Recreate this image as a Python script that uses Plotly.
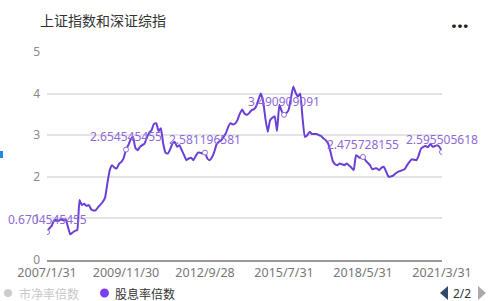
import plotly.graph_objects as go
import pandas as pd

title = "上证指数和深证综指"
series_name = "股息率倍数"
other_series = "市净率倍数"

tick_labels = ["2007/1/31", "2009/11/30", "2012/9/28", "2015/7/31", "2018/5/31", "2021/3/31"]

values = [
    0.6704545455, 0.76, 0.82, 0.95, 0.97, 0.94, 0.98, 0.95, 0.98, 0.80,
    0.62, 0.66, 0.70, 0.72, 1.44, 1.32, 1.35, 1.30, 1.32, 1.22,
    1.19, 1.20, 1.27, 1.33, 1.40, 1.50, 1.85, 2.16, 2.28, 2.22,
    2.20, 2.31, 2.36, 2.45, 2.654545455, 2.76, 2.90, 2.96, 2.70, 2.64,
    2.72, 2.76, 2.80, 2.95, 3.06, 3.12, 3.27, 3.29, 3.10, 3.17,
    2.80, 2.58, 2.56, 2.66, 2.80, 2.84, 2.72, 2.76, 2.64, 2.52,
    2.40, 2.44, 2.46, 2.40, 2.50, 2.58, 2.58, 2.56, 2.581196581, 2.44,
    2.40, 2.47, 2.60, 2.78, 2.84, 2.88, 2.96, 3.05, 3.20, 3.29,
    3.26, 3.28, 3.37, 3.52, 3.62, 3.52, 3.49, 3.53, 3.60, 3.62,
    3.69, 3.85, 4.00, 3.82, 3.40, 3.08, 3.36, 3.42, 3.45, 3.10,
    3.73, 3.58, 3.490909091, 3.53, 3.61, 3.90, 4.17, 4.02, 3.93, 4.00,
    3.40, 2.96, 3.00, 3.08, 3.03, 3.03, 3.03, 3.00, 2.98, 2.92,
    2.88, 2.80, 2.60, 2.38, 2.30, 2.28, 2.32, 2.30, 2.28, 2.32,
    2.27, 2.22, 2.16, 2.52, 2.48, 2.45, 2.475728155, 2.40, 2.34, 2.28,
    2.18, 2.20, 2.20, 2.16, 2.22, 2.24, 2.12, 2.00, 2.01, 2.03,
    2.08, 2.12, 2.14, 2.16, 2.19, 2.28, 2.36, 2.42, 2.41, 2.40,
    2.52, 2.68, 2.72, 2.74, 2.71, 2.79, 2.72, 2.74, 2.76, 2.71,
    2.595505618,
]

# monthly category labels; ticked months carry the chart's own labels
months = list(pd.date_range("2007-01-31", periods=len(values), freq="ME").strftime("%Y/%m/%d"))
tick_idx = [0, 34, 68, 102, 136, 170]
for i, lab in zip(tick_idx, tick_labels):
    months[i] = lab

line_color = "#6a3fd6"
label_color = "#8d6ad9"

fig = go.Figure()
fig.add_trace(go.Scatter(
    x=months, y=values, mode="lines",
    line=dict(color=line_color, width=2, shape="spline", smoothing=0.4),
    hoverinfo="skip", showlegend=False,
))
fig.add_trace(go.Scatter(
    x=[months[i] for i in tick_idx], y=[values[i] for i in tick_idx],
    mode="markers",
    marker=dict(size=5, color="white", line=dict(color=label_color, width=1)),
    showlegend=False, hoverinfo="skip",
))
for i in tick_idx:
    fig.add_annotation(
        x=months[i], y=values[i], text=str(values[i]), showarrow=False,
        yshift=13, font=dict(family="Noto Sans", size=12, color=label_color),
    )

fig.update_xaxes(
    type="category", range=[0, len(values) - 1],
    tickmode="array", tickvals=tick_labels, ticktext=tick_labels,
    showgrid=False, showline=True, linecolor="#9a9a9a", linewidth=2,
    ticks="", tickfont=dict(family="Noto Sans", size=12.5, color="#777777"),
    zeroline=False,
)
fig.update_yaxes(
    range=[0, 5], dtick=1, showgrid=True, gridcolor="#e4e4e4", gridwidth=1.5,
    zeroline=False, showline=False, ticks="",
    tickfont=dict(family="Noto Sans", size=12, color="#8a8a8a"),
    ticklabelstandoff=6,
)

# title and menu dots
fig.add_annotation(xref="paper", yref="paper", x=-9 / 395, y=(301 - 20 - 41) / 208,
                   text=title, showarrow=False, xanchor="left", yanchor="middle",
                   font=dict(family="Noto Sans CJK SC", size=14, color="#333333"))
fig.add_annotation(xref="paper", yref="paper", x=(460 - 47) / 395, y=(301 - 20 - 41) / 208,
                   text="<b>...</b>", showarrow=False, xanchor="center", yanchor="middle",
                   font=dict(family="Noto Sans", size=21, color="#222222"))

# legend (manual)
leg_y = (301 - 293 - 41) / 208
fig.add_shape(type="circle", xref="x domain", yref="paper",
              x0=(4 - 47) / 395, x1=(12 - 47) / 395,
              y0=leg_y - 4 / 208, y1=leg_y + 4 / 208,
              fillcolor="#cccccc", line=dict(width=0))
fig.add_annotation(xref="paper", yref="paper", x=(17 - 47) / 395, y=leg_y,
                   text=other_series, showarrow=False, xanchor="left", yanchor="middle",
                   font=dict(family="Noto Sans CJK SC", size=12, color="#c8c8c8"))
fig.add_shape(type="circle", xref="x domain", yref="paper",
              x0=(100 - 47) / 395, x1=(109 - 47) / 395,
              y0=leg_y - 4.5 / 208, y1=leg_y + 4.5 / 208,
              fillcolor="#7a3ff0", line=dict(width=0))
fig.add_annotation(xref="paper", yref="paper", x=(113 - 47) / 395, y=leg_y,
                   text=series_name, showarrow=False, xanchor="left", yanchor="middle",
                   font=dict(family="Noto Sans CJK SC", size=12, color="#333333"))

# pagination
fig.add_shape(type="path", xref="paper", yref="paper",
              path=f"M {(440-47)/395} {leg_y} L {(448-47)/395} {leg_y + 7/208} L {(448-47)/395} {leg_y - 7/208} Z",
              fillcolor="#2f4a6a", line=dict(width=0))
fig.add_annotation(xref="paper", yref="paper", x=(462 - 47) / 395, y=leg_y,
                   text="2/2", showarrow=False, xanchor="center", yanchor="middle",
                   font=dict(family="Noto Sans", size=12, color="#333333"))
fig.add_shape(type="path", xref="paper", yref="paper",
              path=f"M {(486-47)/395} {leg_y} L {(478-47)/395} {leg_y + 7/208} L {(478-47)/395} {leg_y - 7/208} Z",
              fillcolor="#aaaaaa", line=dict(width=0))

# small blue fragment at the left edge
fig.add_shape(type="rect", xref="paper", yref="paper",
              x0=(0 - 47) / 395, x1=(3 - 47) / 395,
              y0=(301 - 158 - 41) / 208, y1=(301 - 151 - 41) / 208,
              fillcolor="#1e88e5", line=dict(width=0))

fig.update_layout(
    width=488, height=301,
    margin=dict(l=47, r=46, t=52, b=41),
    paper_bgcolor="white", plot_bgcolor="white",
    showlegend=False,
)

fig.write_html("out.html")
